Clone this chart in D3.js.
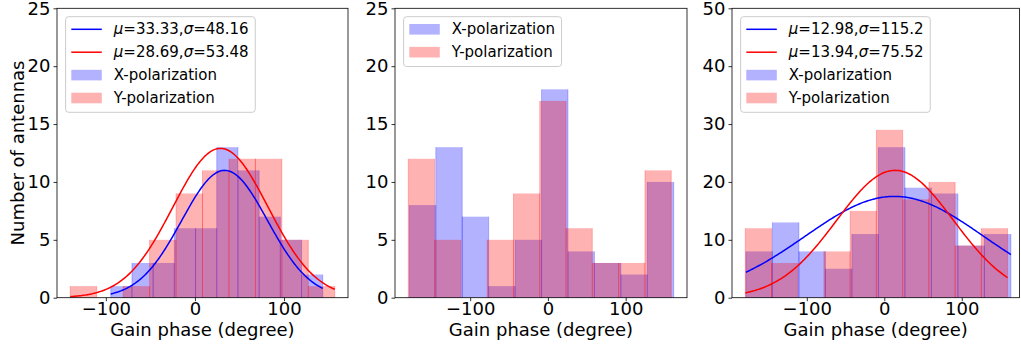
<!DOCTYPE html>
<html>
<head>
<meta charset="utf-8">
<script src="https://cdn.jsdelivr.net/npm/d3@7"></script>
<style>
  html, body { margin: 0; padding: 0; background: #fff; }
  svg { display: block; font-family: "DejaVu Sans", sans-serif; }
</style>
</head>
<body>
<svg id="chart" width="1021" height="346"></svg>
<script>
// ---------------- data ----------------
const xTickValues = [-100, 0, 100];
const yTicksSmall = [0, 5, 10, 15, 20, 25];
const yTicksLarge = [0, 10, 20, 30, 40, 50];
const seriesNames = ["X-polarization", "Y-polarization"];

// Panel 1
const p1XEdges = [-94.5, -70.7, -46.9, -23.1, 0.7, 24.5, 48.3, 72.1, 95.9, 119.7, 143.5];
const p1XCounts = [1, 3, 3, 6, 6, 13, 11, 7, 5, 2];
const p1YEdges = [-140, -110.3, -80.6, -50.9, -21.2, 8.5, 38.2, 67.9, 97.6, 127.3, 157];
const p1YCounts = [1, 0, 1, 5, 9, 11, 12, 12, 5, 1];
const p1FitMu = [33.33, 28.69];
const p1FitSigma = [48.16, 53.48];
const p1FitPeak = [11.0, 12.9];

// Panel 2
const p2XEdges = [-178.2, -144.2, -110.2, -76.2, -42.2, -8.2, 25.8, 59.8, 93.8, 127.8, 161.8];
const p2XCounts = [8, 13, 7, 1, 5, 18, 4, 3, 2, 10];
const p2YEdges = [-179.6, -145.8, -112.0, -78.1, -44.3, -10.5, 23.3, 57.1, 91.0, 124.8, 158.6];
const p2YCounts = [12, 5, 0, 5, 9, 17, 6, 3, 3, 11];

// Panel 3
const p3XEdges = [-178.6, -144.4, -110.2, -76.0, -41.8, -7.6, 26.6, 60.8, 95.0, 129.2, 163.4];
const p3XCounts = [8, 13, 8, 5, 11, 26, 19, 18, 9, 11];
const p3YEdges = [-179.4, -145.6, -111.7, -77.9, -44.0, -10.2, 23.7, 57.6, 91.4, 125.3, 159.1];
const p3YCounts = [12, 6, 0, 8, 15, 29, 17, 20, 9, 12];
const p3FitMu = [12.98, 13.94];
const p3FitSigma = [115.2, 75.52];
const p3FitPeak = [17.5, 22.0];

const xLabel = "Gain phase (degree)";
const yLabel = "Number of antennas";

// ---------------- drawing ----------------
const svg = d3.select("#chart");
svg.append("rect").attr("width", 1021).attr("height", 346).attr("fill", "#fff");

const BLUE = "#0000ff", RED = "#ff0000";
const TOP = 8.3, BOTTOM = 297.7;

function fmt(v) { return v < 0 ? "\u2212" + Math.abs(v) : String(v); }

function drawPanel(cfg) {
  const g = svg.append("g");
  const allEdges = cfg.xEdges.concat(cfg.yEdges);
  const lo = d3.min(allEdges), hi = d3.max(allEdges);
  const m = (hi - lo) * 0.05;
  const xMax = cfg.xMax !== undefined ? cfg.xMax : hi + m;
  const PW = cfg.width;
  const x = d3.scaleLinear().domain([lo - m, xMax]).range([cfg.left, cfg.left + PW]);
  const y = d3.scaleLinear().domain([0, cfg.yMax]).range([BOTTOM, TOP]);

  function bars(edges, counts, color) {
    const data = counts.map((c, i) => ({x0: edges[i], x1: edges[i + 1], c}))
      .filter(d => d.c > 0);
    g.append("g").selectAll("rect").data(data).join("rect")
      .attr("x", d => x(d.x0))
      .attr("width", d => x(d.x1) - x(d.x0))
      .attr("y", d => y(d.c))
      .attr("height", d => y(0) - y(d.c))
      .attr("fill", color).attr("fill-opacity", 0.3)
      .attr("stroke", color).attr("stroke-opacity", 0.3).attr("stroke-width", 0.8)
      .attr("stroke-dasharray", d => {
        const w = x(d.x1) - x(d.x0), h = y(0) - y(d.c);
        return `0 ${w} ${h} ${w} ${h} 0`;
      });
  }
  bars(cfg.xEdges, cfg.xCounts, BLUE);
  bars(cfg.yEdges, cfg.yCounts, RED);

  if (cfg.fitMu) {
    const colors = [BLUE, RED];
    const edgeSets = [cfg.xEdges, cfg.yEdges];
    cfg.fitMu.forEach((mu, k) => {
      const s = cfg.fitSigma[k], pk = cfg.fitPeak[k];
      const a = edgeSets[k][0], b = edgeSets[k][edgeSets[k].length - 1];
      const pts = d3.range(0, 201).map(i => {
        const xv = a + (b - a) * i / 200;
        return [xv, pk * Math.exp(-0.5 * Math.pow((xv - mu) / s, 2))];
      });
      g.append("path").datum(pts)
        .attr("d", d3.line().x(d => x(d[0])).y(d => y(d[1])))
        .attr("fill", "none").attr("stroke", colors[k]).attr("stroke-width", 1.5);
    });
  }

  // axes
  const ax = g.append("g").attr("transform", `translate(0,${BOTTOM})`)
    .call(d3.axisBottom(x).tickValues(xTickValues).tickFormat(fmt).tickSize(3.5).tickPadding(3.5));
  const ay = g.append("g").attr("transform", `translate(${cfg.left},0)`)
    .call(d3.axisLeft(y).tickValues(cfg.yTicks).tickFormat(fmt).tickSize(3.5).tickPadding(3));
  [ax, ay].forEach(a => {
    a.select(".domain").remove();
    a.selectAll("line").attr("stroke", "#000").attr("stroke-width", 0.8);
    a.selectAll("text").attr("fill", "#000").style("font-size", "18px")
      .style("font-family", "DejaVu Sans");
  });
  ax.selectAll("text").attr("dy", "0.6em");

  // spines
  g.append("rect").attr("x", cfg.left).attr("y", TOP).attr("width", PW).attr("height", BOTTOM - TOP)
    .attr("fill", "none").attr("stroke", "#000").attr("stroke-width", 0.8);

  // x label
  g.append("text").attr("x", cfg.left + PW / 2).attr("y", 336)
    .attr("text-anchor", "middle").style("font-size", "18px").text(xLabel);
  if (cfg.showY) {
    g.append("text").attr("transform", `translate(24,${(TOP + BOTTOM) / 2}) rotate(-90)`)
      .attr("text-anchor", "middle").style("font-size", "18px").text(yLabel);
  }

  // legend
  const lg = g.append("g");
  const bx = cfg.left + 8.6, by = 16.7;
  const rows = [];
  if (cfg.fitMu) {
    cfg.fitMu.forEach((mu, k) => rows.push({type: "line", color: [BLUE, RED][k], mu, sigma: cfg.fitSigma[k]}));
  }
  rows.push({type: "patch", color: BLUE, label: seriesNames[0]});
  rows.push({type: "patch", color: RED, label: seriesNames[1]});
  const frame = lg.append("rect");
  const hx = bx + 5.7, tx = hx + 30.5 + 12;
  let maxW = 0;
  rows.forEach((r, i) => {
    const cy = by + 12.6 + 22.9 * i;
    if (r.type === "line") {
      lg.append("line").attr("x1", hx).attr("x2", hx + 30.5).attr("y1", cy).attr("y2", cy)
        .attr("stroke", r.color).attr("stroke-width", 1.5);
    } else {
      lg.append("rect").attr("x", hx).attr("y", cy - 5.3).attr("width", 30.5).attr("height", 10.6)
        .attr("fill", r.color).attr("fill-opacity", 0.3);
    }
    const t = lg.append("text").attr("x", tx).attr("y", cy).attr("dy", "0.3em")
      .style("font-size", "15px");
    if (r.type === "line") {
      t.append("tspan").style("font-style", "italic").text("\u03bc");
      t.append("tspan").text("=" + r.mu + ",");
      t.append("tspan").style("font-style", "italic").text("\u03c3");
      t.append("tspan").text("=" + r.sigma);
    } else {
      t.text(r.label);
    }
    maxW = Math.max(maxW, t.node().getComputedTextLength());
  });
  const lastCy = by + 12.6 + 22.9 * (rows.length - 1);
  frame.attr("x", bx).attr("y", by).attr("width", tx + maxW + 6.6 - bx)
    .attr("height", lastCy + 14.3 - by).attr("rx", 3)
    .attr("fill", "#fff").attr("fill-opacity", 0.8)
    .attr("stroke", "#cccccc").attr("stroke-width", 1);
}

drawPanel({left: 57, width: 291, xEdges: p1XEdges, xCounts: p1XCounts, yEdges: p1YEdges, yCounts: p1YCounts,
  yMax: 25, yTicks: yTicksSmall, fitMu: p1FitMu, fitSigma: p1FitSigma, fitPeak: p1FitPeak, showY: true});
drawPanel({left: 395, width: 292, xEdges: p2XEdges, xCounts: p2XCounts, yEdges: p2YEdges, yCounts: p2YCounts,
  yMax: 25, yTicks: yTicksSmall});
drawPanel({left: 732, width: 287.5, xMax: 174.5, xEdges: p3XEdges, xCounts: p3XCounts, yEdges: p3YEdges, yCounts: p3YCounts,
  yMax: 50, yTicks: yTicksLarge, fitMu: p3FitMu, fitSigma: p3FitSigma, fitPeak: p3FitPeak});
</script>
</body>
</html>
